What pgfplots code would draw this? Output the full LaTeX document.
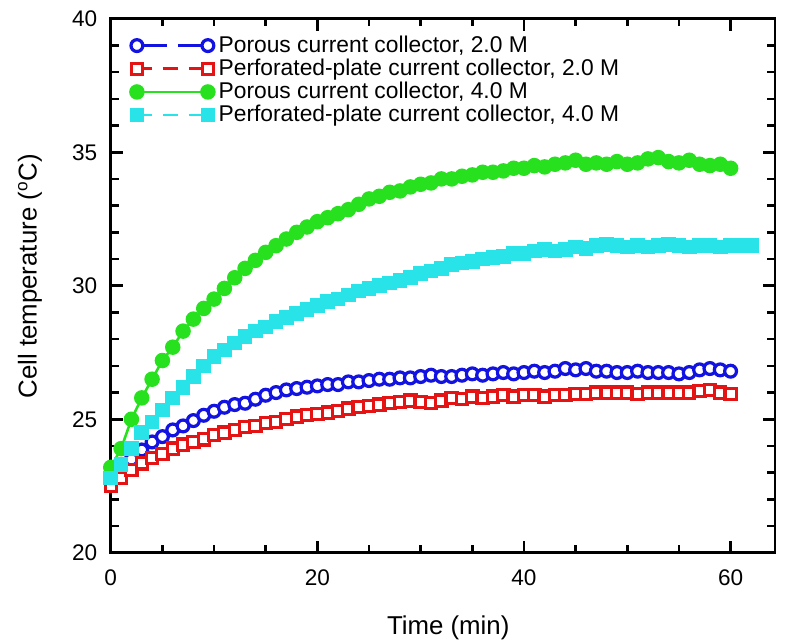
\documentclass[border=0pt]{standalone}
\usepackage{fontspec}
\setmainfont{Liberation Sans}
\usepackage{pgfplots}
\pgfplotsset{compat=1.18}
\definecolor{cblue}{RGB}{18,18,225}
\definecolor{cred}{RGB}{228,20,20}
\definecolor{cgreen}{RGB}{40,225,30}
\definecolor{ccyan}{RGB}{40,228,232}
\begin{document}
\begin{tikzpicture}
\useasboundingbox (-51.5pt,-42pt) rectangle (313.45pt,257pt);
\begin{axis}[
  at={(0,0)}, anchor=south west,
  scale only axis, width=308.8pt, height=248.3pt,
  xmin=0, xmax=64.3, ymin=20, ymax=40,
  xtick={0,20,40,60}, ytick={20,25,...,40},
  minor x tick num=3, minor y tick num=4,
  tick align=inside,
  tick style={line width=1.2pt, black},
  major tick length=5.5pt, minor tick length=3.6pt,
  axis line style={line width=1.3pt},
  /pgf/number format/assume math mode=true,
  tick label style={font=\fontsize{10.5}{12.5}\selectfont},
  xticklabel style={yshift=-4.5pt},
  yticklabel style={xshift=-2.8pt},
  xlabel={Time (min)},
  ylabel={Cell temperature (\textsuperscript{o}C)},
  label style={font=\fontsize{12}{14}\selectfont},
  xlabel style={at={(axis description cs:0.508,-0.141)}, anchor=center},
  ylabel style={at={(axis description cs:-0.1215,0.518)}, anchor=center},
  legend style={at={(axis description cs:0.029,0.977)}, anchor=north west,
    draw=none, fill=none, font=\fontsize{10.6}{12.5}\selectfont,
    row sep=-2.4pt, inner sep=0pt},
  legend cell align=left,
  legend image code/.code={\draw[mark repeat=2,mark phase=1] plot coordinates {(0pt,0pt) (16.5pt,0pt) (33pt,0pt)};},
]
\addplot[cblue, line width=1.2pt, dash pattern=on 14pt off 5pt, mark=*, mark size=2.75pt,
  mark options={solid, fill=white, draw=cblue, line width=1.5pt}] coordinates {
(0,22.9) (1,23.2) (2,23.5) (3,23.85) (4,24.15) (5,24.35) (6,24.6) (7,24.75) (8,24.95) (9,25.15)
(10,25.3) (11,25.45) (12,25.55) (13,25.6) (14,25.75) (15,25.9) (16,26.0) (17,26.1) (18,26.15) (19,26.2)
(20,26.25) (21,26.3) (22,26.3) (23,26.4) (24,26.4) (25,26.45) (26,26.5) (27,26.5) (28,26.55) (29,26.55)
(30,26.6) (31,26.65) (32,26.6) (33,26.6) (34,26.65) (35,26.7) (36,26.65) (37,26.7) (38,26.75) (39,26.7)
(40,26.75) (41,26.8) (42,26.75) (43,26.8) (44,26.9) (45,26.85) (46,26.9) (47,26.8) (48,26.8) (49,26.75)
(50,26.75) (51,26.8) (52,26.75) (53,26.75) (54,26.75) (55,26.7) (56,26.75) (57,26.85) (58,26.9) (59,26.85)
(60,26.8)};
\addlegendentry{Porous current collector, 2.0 M}
\addplot[cred, line width=1.2pt, dash pattern=on 7pt off 5pt, mark=square*, mark size=2.6pt,
  mark options={solid, fill=white, draw=cred, line width=1.5pt}] coordinates {
(0,22.5) (1,22.8) (2,23.1) (3,23.35) (4,23.55) (5,23.7) (6,23.9) (7,24.05) (8,24.15) (9,24.25)
(10,24.4) (11,24.5) (12,24.6) (13,24.7) (14,24.75) (15,24.85) (16,24.9) (17,25.0) (18,25.1) (19,25.15)
(20,25.2) (21,25.25) (22,25.3) (23,25.4) (24,25.45) (25,25.5) (26,25.55) (27,25.6) (28,25.65) (29,25.7)
(30,25.65) (31,25.6) (32,25.7) (33,25.8) (34,25.75) (35,25.85) (36,25.8) (37,25.85) (38,25.9) (39,25.85)
(40,25.9) (41,25.9) (42,25.85) (43,25.9) (44,25.9) (45,25.95) (46,25.95) (47,26.0) (48,26.0) (49,26.0)
(50,26.0) (51,25.95) (52,26.0) (53,26.0) (54,26.0) (55,26.0) (56,26.0) (57,26.05) (58,26.1) (59,26.0)
(60,25.95)};
\addlegendentry{Perforated-plate current collector, 2.0 M}
\addplot[cgreen, line width=1.2pt, mark=*, mark size=3pt,
  mark options={solid, fill=cgreen, draw=cgreen}] coordinates {
(0,23.2) (1,23.9) (2,25.0) (3,25.8) (4,26.5) (5,27.2) (6,27.7) (7,28.3) (8,28.75) (9,29.15)
(10,29.5) (11,29.9) (12,30.3) (13,30.65) (14,30.95) (15,31.25) (16,31.5) (17,31.75) (18,32.0) (19,32.2)
(20,32.4) (21,32.55) (22,32.7) (23,32.85) (24,33.05) (25,33.25) (26,33.35) (27,33.5) (28,33.55) (29,33.7)
(30,33.8) (31,33.85) (32,34.0) (33,34.0) (34,34.1) (35,34.15) (36,34.25) (37,34.25) (38,34.3) (39,34.4)
(40,34.4) (41,34.5) (42,34.45) (43,34.55) (44,34.6) (45,34.7) (46,34.55) (47,34.6) (48,34.55) (49,34.65)
(50,34.55) (51,34.6) (52,34.75) (53,34.8) (54,34.65) (55,34.6) (56,34.7) (57,34.55) (58,34.5) (59,34.55)
(60,34.4)};
\addlegendentry{Porous current collector, 4.0 M}
\addplot[ccyan, line width=1.2pt, dash pattern=on 7pt off 5pt, mark=square*, mark size=2.8pt,
  mark options={solid, fill=ccyan, draw=ccyan}] coordinates {
(0,22.8) (1,23.3) (2,23.9) (3,24.5) (4,24.9) (5,25.35) (6,25.8) (7,26.2) (8,26.6) (9,27.0)
(10,27.35) (11,27.6) (12,27.85) (13,28.1) (14,28.3) (15,28.45) (16,28.65) (17,28.8) (18,28.95) (19,29.1)
(20,29.25) (21,29.4) (22,29.5) (23,29.65) (24,29.8) (25,29.9) (26,30.0) (27,30.1) (28,30.2) (29,30.3)
(30,30.45) (31,30.55) (32,30.65) (33,30.8) (34,30.85) (35,30.9) (36,31.0) (37,31.05) (38,31.1) (39,31.2)
(40,31.2) (41,31.3) (42,31.35) (43,31.3) (44,31.35) (45,31.45) (46,31.4) (47,31.5) (48,31.55) (49,31.5)
(50,31.45) (51,31.5) (52,31.45) (53,31.5) (54,31.55) (55,31.5) (56,31.45) (57,31.5) (58,31.5) (59,31.45)
(60,31.5) (61,31.5) (62,31.5)};
\addlegendentry{Perforated-plate current collector, 4.0 M}
\end{axis}
\end{tikzpicture}
\end{document}
